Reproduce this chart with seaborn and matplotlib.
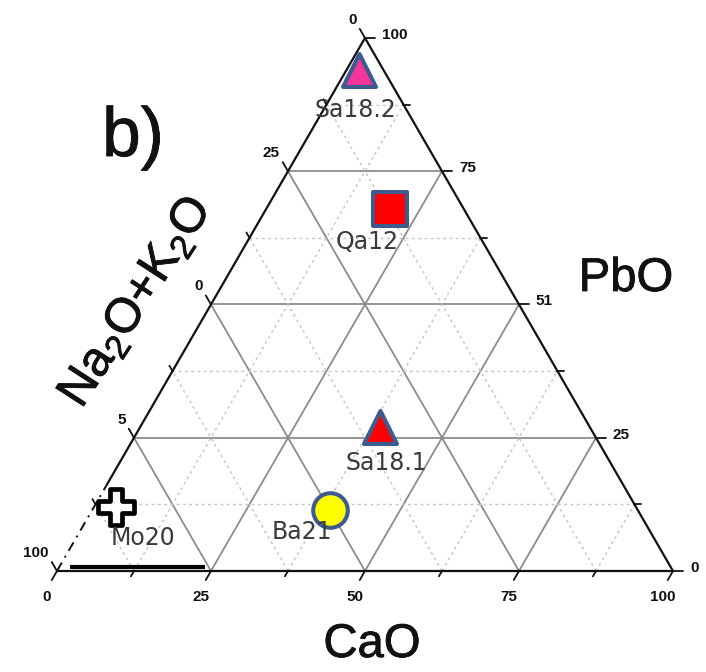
import numpy as np
import pandas as pd
import matplotlib
matplotlib.use("Agg")
import matplotlib.pyplot as plt
import matplotlib.patheffects as pe
import seaborn as sns

# --- sample compositions (wt. %, normalised to 100) ---------------------------
samples = ["Sa18.2", "Qa12", "Sa18.1", "Ba21", "Mo20"]
na2o_k2o = [4.0, 12.0, 34.0, 50.0, 84.5]
cao = [2.0, 20.0, 39.0, 38.5, 3.5]
pbo = [94.0, 68.0, 27.0, 11.5, 12.0]

# --- axis tick values and their printed labels ---------------------------------
tick_values = [0, 25, 50, 75, 100]
minor_values = [12.5, 37.5, 62.5, 87.5]
cao_tick_labels = ["0", "25", "50", "75", "100"]
pbo_tick_labels = ["0", "25", "51", "75", "100"]
alk_tick_labels = ["0", "25", "0", "5", "100"]

# --- marker styles -------------------------------------------------------------
marker_shapes = ["^", "s", "^", "o", "P"]
face_colors = ["#f5359a", "#ff0000", "#ff0000", "#ffff00", "#ffffff"]
edge_colors = ["#3d5b8e", "#3d5b8e", "#3d5b8e", "#3d5b8e", "#000000"]
marker_sizes = [560, 620, 560, 620, 640]
marker_edges = [3.0, 2.9, 3.0, 2.9, 3.4]
label_offsets = [(-3, -40), (-22, -33), (6, -36), (-28, -22), (27, -31)]

SQ3 = np.sqrt(3) / 2


def to_xy(ca, pb):
    """Ternary (CaO, PbO) -> cartesian; Na2O+K2O sits at the origin corner."""
    ca = np.asarray(ca, dtype=float)
    pb = np.asarray(pb, dtype=float)
    return ca + pb / 2.0, pb * SQ3


sns.set_style("white")
plt.rcParams["font.family"] = ["Liberation Sans", "DejaVu Sans"]
plt.rcParams["mathtext.fontset"] = "custom"
plt.rcParams["mathtext.rm"] = "Liberation Sans"
plt.rcParams["mathtext.it"] = "Liberation Sans"

fig = plt.figure(figsize=(7.06, 6.72), dpi=100)
ax = fig.add_axes([0, 0, 1, 1])

grid_kw = dict(color="#8c8c8c", lw=1.3, zorder=1)
minor_kw = dict(color="#c4c4c4", lw=1.0, ls=(0, (2, 2.5)), zorder=1)

# grid lines of the three families
for vals, kw in ((tick_values[1:-1], grid_kw), (minor_values, minor_kw)):
    for v in vals:
        # constant PbO (horizontal)
        x, y = to_xy([0, 100 - v], [v, v])
        ax.plot(x, y, **kw)
        # constant CaO
        x, y = to_xy([v, v], [0, 100 - v])
        ax.plot(x, y, **kw)
        # constant Na2O+K2O
        x, y = to_xy([100 - v, 0], [0, 100 - v])
        ax.plot(x, y, **kw)

# triangle outline
edge_kw = dict(color="#111111", lw=1.6, zorder=2, solid_capstyle="butt")
x, y = to_xy([0, 100, 0], [0, 0, 100])
ax.plot(x[:2], y[:2], **edge_kw)                 # base
ax.plot([x[1], x[2]], [y[1], y[2]], **edge_kw)   # right edge
xl, yl = to_xy([0, 0], [16, 100])
ax.plot(xl, yl, **edge_kw)                       # upper left edge
xl, yl = to_xy([0, 0], [0, 16])
ax.plot(xl, yl, color="#111111", lw=1.4, ls=(0, (5, 3, 1, 3)), zorder=2)

# heavy bar along the lower left of the base
ax.plot([2.1, 24.0], [0.6, 0.6], color="black", lw=3.0, zorder=3,
        solid_capstyle="butt")

# ticks
tick_kw = dict(color="#111111", lw=1.3, zorder=2)
for v in tick_values + minor_values:
    L = 1.7 if v in tick_values else 1.0
    # PbO ticks on the right edge, pointing right
    bx, by = to_xy(100 - v, v)
    ax.plot([bx, bx + L], [by, by], **tick_kw)
    # CaO ticks on the base, pointing down-left
    bx, by = to_xy(v, 0)
    ax.plot([bx, bx - 0.5 * L], [by, by - 2 * SQ3 * 0.5 * L], **tick_kw)
    # Na2O+K2O ticks on the left edge, pointing up-left
    bx, by = to_xy(0, 100 - v)
    ax.plot([bx, bx - 0.5 * L], [by, by + 2 * SQ3 * 0.5 * L], **tick_kw)

tick_font = dict(fontsize=11, fontweight="bold", color="#111111",
                 family=["Liberation Sans Narrow", "Liberation Sans"])
for v, lab in zip(tick_values, pbo_tick_labels):
    bx, by = to_xy(100 - v, v)
    ax.annotate(lab, (float(bx), float(by)), xytext=(17, 3),
                textcoords="offset pixels", ha="left", va="center", **tick_font)
for v, lab in zip(tick_values, cao_tick_labels):
    bx, by = to_xy(v, 0)
    ax.annotate(lab, (float(bx), float(by)), xytext=(-10, -26),
                textcoords="offset pixels", ha="center", va="center", **tick_font)
for v, lab in zip(tick_values, alk_tick_labels):
    bx, by = to_xy(0, 100 - v)
    ax.annotate(lab, (float(bx), float(by)), xytext=(-8, 18),
                textcoords="offset pixels", ha="right", va="center", **tick_font)

# sample points
px, py = to_xy(cao, pbo)
df = pd.DataFrame({"sample": samples, "x": px, "y": py,
                   "Na2O+K2O": na2o_k2o, "CaO": cao, "PbO": pbo})
for i, row in df.iterrows():
    sns.scatterplot(data=df.iloc[[i]], x="x", y="y", ax=ax,
                    marker=marker_shapes[i], s=marker_sizes[i],
                    color=face_colors[i], edgecolor=edge_colors[i],
                    linewidth=marker_edges[i], zorder=5, legend=False)
    dx, dy = label_offsets[i]
    ax.annotate(row["sample"], (row["x"], row["y"]), xytext=(dx, dy),
                textcoords="offset pixels", ha="center", va="center",
                fontsize=17, color="#3a3a3a", family="DejaVu Sans", zorder=6)

ax.set_xlim(-9.25, 105.36)
ax.set_ylim(-16.41, 92.77)
ax.axis("off")

# axis titles and panel letter (slightly heavier stroke)
heavy = [pe.withStroke(linewidth=0.6, foreground="#111111")]
fig.text(133 / 706, 1 - 138 / 672, "b)", fontsize=50, ha="center",
         va="center", color="#111111", path_effects=heavy)
fig.text(626 / 706, 1 - 279 / 672, "PbO", fontsize=34, ha="center",
         va="center", color="#111111", path_effects=heavy)
fig.text(372 / 706, 1 - 645 / 672, "CaO", fontsize=34, ha="center",
         va="center", color="#111111", path_effects=heavy)
fig.text(136 / 706, 1 - 302 / 672, "Na$_2$O+K$_2$O", fontsize=35,
         rotation=57, rotation_mode="anchor", ha="center", va="center",
         color="#111111", path_effects=heavy)

fig.savefig("out.png", dpi=100)
